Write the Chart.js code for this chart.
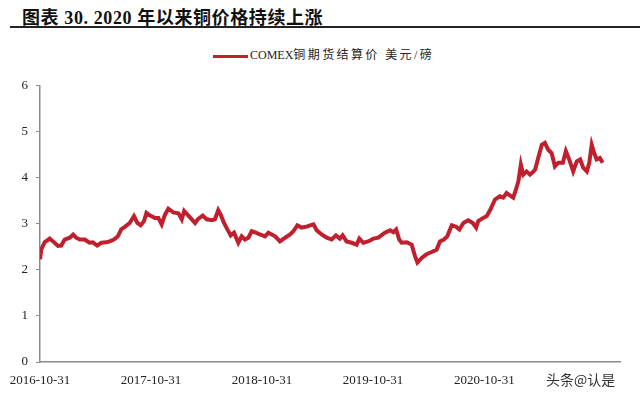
<!DOCTYPE html>
<html>
<head>
<meta charset="utf-8">
<script src="https://cdn.jsdelivr.net/npm/chart.js@4"></script>
<style>
  body { margin: 0; width: 640px; height: 397px; background: #fff; position: relative; overflow: hidden; }
  #title { position: absolute; left: 22px; top: 3px; font: bold 18px "Liberation Serif", "Noto Sans CJK SC", serif; color: #111; letter-spacing: 0.6px; white-space: nowrap; }
  #rule { position: absolute; left: 10px; right: 0; top: 26px; height: 2px; background: #222; }
  #legend { position: absolute; left: 213px; top: 45px; font: 12px "Liberation Serif", "Noto Sans CJK SC", serif; color: #222; white-space: nowrap; }
  #legend span.swatch { display: inline-block; width: 35px; height: 3px; background: #C0202E; vertical-align: middle; margin-right: 2px; }
  #legend span.cjk { letter-spacing: 2.4px; }
  #mark { position: absolute; left: 546px; top: 369px; font: 14px "Noto Sans CJK SC", sans-serif; color: #333; }
  #wrap { position: absolute; left: 0; top: 70px; width: 640px; height: 327px; }
</style>
</head>
<body>
<div id="title">图表 30. 2020 年以来铜价格持续上涨</div>
<div id="rule"></div>
<div id="legend"><span class="swatch"></span>COMEX<span class="cjk">铜期货结算价 美元/磅</span></div>
<div id="wrap"><canvas id="copperChart"></canvas></div>
<div id="mark">头条@认是</div>
<script>
// days since 2016-10-31
const days = [0, 4, 15, 32, 43, 59, 70, 81, 98, 109, 119, 131, 147, 163, 174, 188, 202, 218, 229, 243,
  256, 267, 280, 295, 309, 320, 331, 342, 350, 362, 378, 389, 400, 411, 422, 438, 455, 466, 474, 488,
  499, 510, 520, 535, 548, 565, 575, 586, 594, 605, 616, 627, 638, 652, 663, 674, 685, 696, 710, 723,
  740, 751, 773, 789, 806, 822, 833, 846, 860, 877, 888, 899, 910, 926, 943, 959, 973, 986, 995, 1008,
  1025, 1041, 1050, 1063, 1079, 1096, 1112, 1134, 1151, 1162, 1171, 1181, 1189, 1206, 1222, 1233, 1241, 1255, 1271, 1288,
  1304, 1315, 1328, 1339, 1354, 1368, 1379, 1392, 1408, 1423, 1434, 1441, 1452, 1469, 1480, 1496, 1512, 1523, 1534, 1545,
  1556, 1565, 1573, 1581, 1589, 1600, 1611, 1620, 1628, 1638, 1650, 1660, 1671, 1682, 1693, 1704, 1719, 1729, 1740, 1753,
  1765, 1776, 1786, 1798, 1806, 1814, 1822, 1830, 1841, 1850];

// COMEX铜期货结算价 (美元/磅)
const prices = [2.23, 2.44, 2.60, 2.68, 2.62, 2.52, 2.53, 2.66, 2.70, 2.77, 2.70, 2.66, 2.66, 2.59, 2.60, 2.53, 2.59, 2.60, 2.62, 2.66,
  2.73, 2.88, 2.94, 3.02, 3.17, 3.02, 2.97, 3.06, 3.24, 3.18, 3.13, 3.13, 2.99, 3.20, 3.33, 3.25, 3.23, 3.10, 3.28, 3.18,
  3.10, 3.02, 3.11, 3.18, 3.10, 3.08, 3.10, 3.30, 3.20, 3.02, 2.88, 2.75, 2.81, 2.59, 2.73, 2.66, 2.70, 2.84, 2.81, 2.77,
  2.73, 2.81, 2.73, 2.62, 2.70, 2.77, 2.84, 2.97, 2.92, 2.94, 2.97, 2.99, 2.86, 2.77, 2.70, 2.66, 2.75, 2.68, 2.75, 2.62,
  2.59, 2.55, 2.68, 2.59, 2.62, 2.68, 2.70, 2.81, 2.86, 2.82, 2.88, 2.66, 2.59, 2.60, 2.55, 2.30, 2.16, 2.26, 2.34, 2.39,
  2.44, 2.62, 2.66, 2.73, 2.97, 2.94, 2.88, 3.02, 3.08, 3.02, 2.92, 3.06, 3.11, 3.17, 3.30, 3.53, 3.60, 3.57, 3.67, 3.62,
  3.57, 3.75, 3.93, 4.29, 4.07, 4.14, 4.07, 4.12, 4.18, 4.43, 4.72, 4.76, 4.61, 4.54, 4.25, 4.33, 4.33, 4.58, 4.40, 4.14,
  4.36, 4.40, 4.22, 4.14, 4.33, 4.72, 4.54, 4.40, 4.43, 4.33];

const tickDays = [0, 365, 730, 1095, 1461];
const tickLabels = ['2016-10-31', '2017-10-31', '2018-10-31', '2019-10-31', '2020-10-31'];

const points = days.map((d, i) => ({ x: d, y: prices[i] }));
const serif = "'Liberation Serif', 'Times New Roman', serif";

new Chart(document.getElementById('copperChart'), {
  type: 'line',
  data: {
    datasets: [{
      label: 'COMEX铜期货结算价 美元/磅',
      data: points,
      borderColor: '#C0202E',
      borderWidth: 4,
      pointRadius: 0,
      tension: 0,
      fill: false
    }]
  },
  options: {
    responsive: true,
    maintainAspectRatio: false,
    animation: false,
    layout: { padding: { top: 15, right: 20, left: 0, bottom: 0 } },
    plugins: { legend: { display: false }, tooltip: { enabled: false } },
    scales: {
      x: {
        type: 'linear',
        min: 0,
        max: 1907,
        afterBuildTicks: scale => { scale.ticks = tickDays.map(v => ({ value: v })); },
        afterFit: scale => { scale.height = 35; },
        grid: { display: false },
        border: { display: true, color: '#8a8a8a', width: 1.5 },
        ticks: {
          autoSkip: false,
          maxRotation: 0,
          padding: 3,
          color: '#222',
          font: { family: serif, size: 13 },
          callback: (v) => tickLabels[tickDays.indexOf(v)] ?? ''
        }
      },
      y: {
        min: 0,
        max: 6,
        afterFit: scale => { scale.width = 40; },
        grid: { drawOnChartArea: false, tickLength: 4, color: '#8a8a8a' },
        border: { display: true, color: '#8a8a8a', width: 1.5 },
        ticks: {
          stepSize: 1,
          padding: 8,
          color: '#222',
          font: { family: serif, size: 13 }
        }
      }
    }
  }
});
</script>
</body>
</html>
